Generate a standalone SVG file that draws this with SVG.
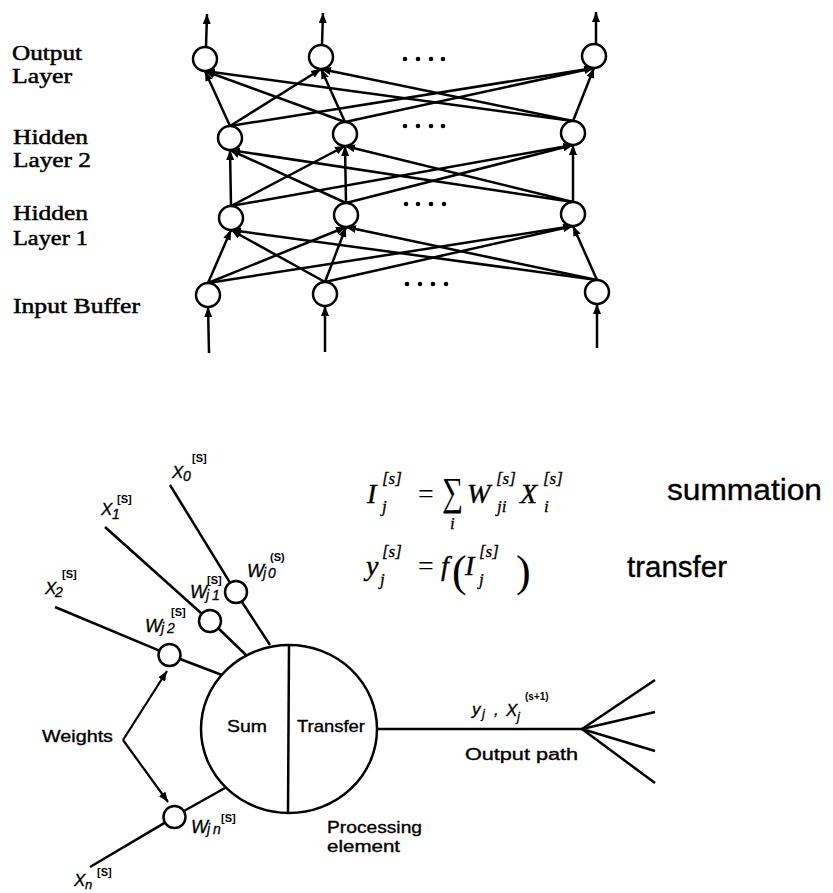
<svg xmlns="http://www.w3.org/2000/svg" width="833" height="893" viewBox="0 0 833 893">
<style>
.lbl{font-family:"Liberation Serif",serif;font-size:22px;fill:#000;stroke:#000;stroke-width:0.5}
.n{fill:#fff;stroke:#000;stroke-width:2.5}
.e{stroke:#000;stroke-width:2.5;fill:none}
.ea{stroke:#000;stroke-width:2.5;fill:none;marker-end:url(#ah)}
.dot{fill:#000}
.sans{font-family:"Liberation Sans",Arial,sans-serif;fill:#000;stroke:#000;stroke-width:0.35}
.hand{font-family:"Liberation Sans",Arial,sans-serif;font-style:italic;fill:#000;font-size:17px;stroke:#000;stroke-width:0.3}
.hs{font-family:"Liberation Sans",Arial,sans-serif;fill:#000;font-size:11px;font-weight:bold}
.m{font-family:"Liberation Serif",serif;font-style:italic;fill:#000;font-size:28px;stroke:#000;stroke-width:0.4}
.ms{font-family:"Liberation Serif",serif;font-style:italic;fill:#000;font-size:17px;stroke:#000;stroke-width:0.3}
.mu{font-family:"Liberation Serif",serif;fill:#000;font-size:28px}
</style>
<defs>
<marker id="ah" markerUnits="userSpaceOnUse" markerWidth="10" markerHeight="8" refX="10" refY="4" orient="auto">
<path d="M0,0 L10,4 L0,8 z" fill="#000"/>
</marker>
</defs>

<!-- Layer labels -->
<g id="labels">
<text class="lbl" x="12" y="60" textLength="70" lengthAdjust="spacingAndGlyphs">Output</text>
<text class="lbl" x="12" y="83" textLength="60" lengthAdjust="spacingAndGlyphs">Layer</text>
<text class="lbl" x="13" y="144" textLength="75" lengthAdjust="spacingAndGlyphs">Hidden</text>
<text class="lbl" x="13" y="167" textLength="78" lengthAdjust="spacingAndGlyphs">Layer 2</text>
<text class="lbl" x="13" y="220" textLength="75" lengthAdjust="spacingAndGlyphs">Hidden</text>
<text class="lbl" x="13" y="245" textLength="75" lengthAdjust="spacingAndGlyphs">Layer 1</text>
<text class="lbl" x="13" y="313" textLength="127" lengthAdjust="spacingAndGlyphs">Input Buffer</text>
</g>

<!-- Top network connectors -->
<g id="connectors-top">
<line class="ea" x1="209" y1="353" x2="208" y2="307"/>
<line class="ea" x1="325" y1="352" x2="325" y2="306"/>
<line class="ea" x1="597" y1="348" x2="597" y2="304"/>
<line class="ea" x1="208" y1="283" x2="231" y2="230"/>
<line class="ea" x1="208" y1="283" x2="346" y2="227"/>
<line class="ea" x1="208" y1="283" x2="573" y2="226"/>
<line class="ea" x1="325" y1="282" x2="231" y2="230"/>
<line class="ea" x1="325" y1="282" x2="346" y2="227"/>
<line class="ea" x1="325" y1="282" x2="573" y2="226"/>
<line class="ea" x1="597" y1="280" x2="231" y2="230"/>
<line class="ea" x1="597" y1="280" x2="346" y2="227"/>
<line class="ea" x1="597" y1="280" x2="573" y2="226"/>
<line class="ea" x1="231" y1="206" x2="230" y2="150"/>
<line class="ea" x1="231" y1="206" x2="345" y2="146"/>
<line class="ea" x1="231" y1="206" x2="573" y2="145"/>
<line class="ea" x1="346" y1="203" x2="230" y2="150"/>
<line class="ea" x1="346" y1="203" x2="345" y2="146"/>
<line class="ea" x1="346" y1="203" x2="573" y2="145"/>
<line class="ea" x1="573" y1="202" x2="230" y2="150"/>
<line class="ea" x1="573" y1="202" x2="345" y2="146"/>
<line class="ea" x1="573" y1="202" x2="573" y2="145"/>
<line class="ea" x1="230" y1="126" x2="205" y2="71"/>
<line class="ea" x1="230" y1="126" x2="321" y2="69"/>
<line class="ea" x1="230" y1="126" x2="594" y2="68"/>
<line class="ea" x1="345" y1="122" x2="205" y2="71"/>
<line class="ea" x1="345" y1="122" x2="321" y2="69"/>
<line class="ea" x1="345" y1="122" x2="594" y2="68"/>
<line class="ea" x1="573" y1="121" x2="205" y2="71"/>
<line class="ea" x1="573" y1="121" x2="321" y2="69"/>
<line class="ea" x1="573" y1="121" x2="594" y2="68"/>
<line class="ea" x1="206" y1="47" x2="207" y2="14"/>
<line class="ea" x1="322" y1="45" x2="323" y2="13"/>
<line class="ea" x1="596" y1="44" x2="596" y2="12"/>
</g>

<!-- Top network nodes -->
<g id="out1"><circle class="n" cx="205" cy="59" r="12"/></g>
<g id="out2"><circle class="n" cx="321" cy="57" r="12"/></g>
<g id="out3"><circle class="n" cx="594" cy="56" r="12"/></g>
<g id="h2a"><circle class="n" cx="230" cy="138" r="12"/></g>
<g id="h2b"><circle class="n" cx="345" cy="134" r="12"/></g>
<g id="h2c"><circle class="n" cx="573" cy="133" r="12"/></g>
<g id="h1a"><circle class="n" cx="231" cy="218" r="12"/></g>
<g id="h1b"><circle class="n" cx="346" cy="215" r="12"/></g>
<g id="h1c"><circle class="n" cx="573" cy="214" r="12"/></g>
<g id="in1"><circle class="n" cx="208" cy="295" r="12"/></g>
<g id="in2"><circle class="n" cx="325" cy="294" r="12"/></g>
<g id="in3"><circle class="n" cx="597" cy="292" r="12"/></g>

<g id="ellipses">
<circle class="dot" cx="405" cy="59" r="2.3"/><circle class="dot" cx="418" cy="59" r="2.3"/><circle class="dot" cx="431" cy="59" r="2.3"/><circle class="dot" cx="443" cy="59" r="2.3"/>
<circle class="dot" cx="405" cy="126" r="2.3"/><circle class="dot" cx="418" cy="126" r="2.3"/><circle class="dot" cx="431" cy="126" r="2.3"/><circle class="dot" cx="443" cy="126" r="2.3"/>
<circle class="dot" cx="406" cy="204" r="2.3"/><circle class="dot" cx="418" cy="204" r="2.3"/><circle class="dot" cx="431" cy="204" r="2.3"/><circle class="dot" cx="444" cy="204" r="2.3"/>
<circle class="dot" cx="407" cy="284" r="2.3"/><circle class="dot" cx="420" cy="284" r="2.3"/><circle class="dot" cx="433" cy="284" r="2.3"/><circle class="dot" cx="446" cy="284" r="2.3"/>
</g>

<!-- Formulas -->
<g id="formula-sum">
<text class="m" x="367" y="503">I</text>
<text class="ms" x="382" y="484">[s]</text>
<text class="ms" x="382" y="512">j</text>
<text class="mu" x="418" y="503">=</text>
<text class="mu" x="442" y="505" style="font-size:40px" textLength="21" lengthAdjust="spacingAndGlyphs">∑</text>
<text class="ms" x="450" y="529">i</text>
<text class="m" x="467" y="503">W</text>
<text class="ms" x="496" y="484">[s]</text>
<text class="ms" x="497" y="512">ji</text>
<text class="m" x="520" y="503">X</text>
<text class="ms" x="543" y="484">[s]</text>
<text class="ms" x="544" y="512">i</text>
<text class="sans" x="667" y="500" font-size="30" textLength="155" lengthAdjust="spacingAndGlyphs">summation</text>
</g>
<g id="formula-transfer">
<text class="m" x="366" y="575">y</text>
<text class="ms" x="382" y="557">[s]</text>
<text class="ms" x="380" y="585">j</text>
<text class="mu" x="418" y="575">=</text>
<text class="m" x="441" y="575">f</text>
<text class="mu" x="452" y="586" style="font-size:44px">(</text>
<text class="m" x="465" y="575">I</text>
<text class="ms" x="479" y="557">[s]</text>
<text class="ms" x="479" y="585">j</text>
<text class="mu" x="516" y="586" style="font-size:44px">)</text>
<text class="sans" x="627" y="577" font-size="30" textLength="100" lengthAdjust="spacingAndGlyphs">transfer</text>
</g>

<!-- Bottom connectors -->
<g id="connectors-bottom">
<line class="e" x1="170" y1="485" x2="230" y2="582.6"/>
<line class="e" x1="242" y1="602" x2="270" y2="645"/>
<line class="e" x1="105" y1="527" x2="201.8" y2="613.7"/>
<line class="e" x1="218" y1="628" x2="246" y2="655"/>
<line class="e" x1="55" y1="607" x2="159.3" y2="650.7"/>
<line class="e" x1="180" y1="659" x2="222" y2="675"/>
<line class="e" x1="90" y1="867" x2="165" y2="822.6"/>
<line class="e" x1="184" y1="811" x2="225" y2="788"/>
<line class="e" x1="377" y1="729" x2="582" y2="729"/>
<line class="e" x1="582" y1="729" x2="655" y2="680"/>
<line class="e" x1="582" y1="729" x2="655" y2="712"/>
<line class="e" x1="582" y1="729" x2="655" y2="751"/>
<line class="e" x1="582" y1="729" x2="655" y2="783"/>
<line class="ea" x1="123" y1="740" x2="167" y2="671" style="stroke-width:2.2"/>
<line class="ea" x1="123" y1="740" x2="168" y2="802" style="stroke-width:2.2"/>
</g>

<!-- Processing element -->
<g id="processing-element">
<ellipse cx="289" cy="729" rx="88" ry="84" fill="none" stroke="#000" stroke-width="2.5"/>
<line class="e" x1="289" y1="645" x2="288" y2="812"/>
<text class="sans" x="227" y="732" font-size="17" textLength="40" lengthAdjust="spacingAndGlyphs">Sum</text>
<text class="sans" x="297" y="732" font-size="17" textLength="68" lengthAdjust="spacingAndGlyphs">Transfer</text>
<text class="sans" x="327" y="833" font-size="17" textLength="95" lengthAdjust="spacingAndGlyphs">Processing</text>
<text class="sans" x="327" y="852" font-size="17" textLength="73" lengthAdjust="spacingAndGlyphs">element</text>
</g>

<!-- Weight nodes -->
<g id="w0">
<circle class="n" cx="236" cy="592" r="11"/>
<text class="hand" x="247" y="577" style="font-size:18px">W</text><text class="hand" x="263" y="578" style="font-size:14px">j</text><text class="hand" x="268" y="578" style="font-size:14px">0</text>
<text class="hs" x="270" y="561">(S)</text>
</g>
<g id="w1">
<circle class="n" cx="210" cy="621" r="11"/>
<text class="hand" x="190" y="598" style="font-size:18px">W</text><text class="hand" x="206" y="600" style="font-size:14px">j</text><text class="hand" x="212" y="600" style="font-size:14px">1</text>
<text class="hs" x="207" y="584">[S]</text>
</g>
<g id="w2">
<circle class="n" cx="169.5" cy="655" r="11"/>
<text class="hand" x="145" y="632" style="font-size:18px">W</text><text class="hand" x="161" y="633" style="font-size:14px">j</text><text class="hand" x="167" y="633" style="font-size:14px">2</text>
<text class="hs" x="171" y="616">[S]</text>
</g>
<g id="wn">
<circle class="n" cx="174.5" cy="817" r="11"/>
<text class="hand" x="191" y="833" style="font-size:18px">W</text><text class="hand" x="207" y="834" style="font-size:14px">j</text><text class="hand" x="213" y="834" style="font-size:14px">n</text>
<text class="hs" x="221" y="822">[S]</text>
</g>

<!-- Input labels -->
<g id="x0"><text class="hand" x="172" y="478">X</text><text class="hand" x="183" y="481" style="font-size:14px">0</text><text class="hs" x="192" y="462">[S]</text></g>
<g id="x1"><text class="hand" x="101" y="515">X</text><text class="hand" x="112" y="519" style="font-size:14px">1</text><text class="hs" x="117" y="503">[S]</text></g>
<g id="x2"><text class="hand" x="45" y="594">X</text><text class="hand" x="55" y="597" style="font-size:14px">2</text><text class="hs" x="62" y="578">[S]</text></g>
<g id="xn"><text class="hand" x="74" y="886">X</text><text class="hand" x="85" y="889" style="font-size:13px">n</text><text class="hs" x="97" y="876">[S]</text></g>

<g id="weights-label"><text class="sans" x="42" y="742" font-size="17" textLength="71" lengthAdjust="spacingAndGlyphs">Weights</text></g>

<g id="output-path">
<text class="hand" x="472" y="715">y</text><text class="hand" x="482" y="718" style="font-size:13px">j</text>
<text class="hand" x="494" y="715">,</text>
<text class="hand" x="506" y="716">X</text><text class="hand" x="517" y="721" style="font-size:13px">j</text>
<text class="hs" x="525" y="700" style="font-size:10px">(s+1)</text>
<text class="sans" x="465" y="760" font-size="16" textLength="113" lengthAdjust="spacingAndGlyphs">Output path</text>
</g>
</svg>
